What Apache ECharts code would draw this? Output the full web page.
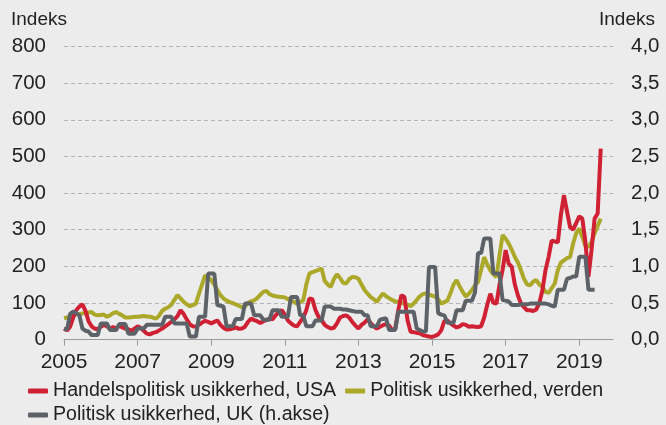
<!DOCTYPE html>
<html>
<head>
<meta charset="utf-8">
<script src="https://cdn.jsdelivr.net/npm/echarts@6/dist/echarts.min.js"></script>
<style>
  html, body { margin: 0; padding: 0; background: #ececec; }
  #chart { width: 666px; height: 425px; }
</style>
</head>
<body>
<div id="chart"></div>
<script>
// Monthly axis: January 2005 to December 2019
const firstYear = 2005;
const lastYear = 2019;
const months = [];
for (let y = firstYear; y <= lastYear; y++) {
  for (let m = 1; m <= 12; m++) {
    months.push(y + '-' + (m < 10 ? '0' + m : m));
  }
}

// Handelspolitisk usikkerhed, USA (venstre akse), Jan 2005 - Aug 2019
const tradeUSA = [
  30, 25, 35, 60, 80, 90, 96, 78, 50, 36, 30, 28,
  35, 40, 36, 30, 34, 30, 38, 33, 30, 28, 24, 30,
  36, 32, 24, 16, 14, 18, 20, 25, 30, 36, 42, 48,
  55, 64, 80, 70, 55, 42, 36, 35, 40, 46, 51, 48,
  44, 48, 52, 40, 32, 27, 28, 30, 33, 29, 30, 35,
  48, 57, 53, 50, 45, 50, 53, 57, 55, 66, 75, 80,
  68, 52, 44, 38, 36, 48, 60, 80, 112, 110, 80, 62,
  53, 40, 34, 30, 32, 44, 60, 64, 66, 60, 48, 38,
  30, 40, 46, 55, 45, 36, 30, 35, 39, 42, 38, 25,
  30, 80, 121, 116, 53, 21, 20, 18, 17, 12, 10, 8,
  7, 10, 14, 25, 50, 52, 44, 38, 33, 36, 42, 40,
  35, 36, 35, 34, 36, 60, 95, 125, 100, 98, 150, 190,
  244, 207, 198, 150, 120, 98, 88, 80, 80, 78, 82, 100,
  135, 190, 225, 270, 268, 265, 340, 394, 350, 307, 300, 318,
  336, 330, 266, 171, 244, 330, 344, 521
];

// Politisk usikkerhed, verden (venstre akse), Jan 2005 - Aug 2019
const policyWorld = [
  58, 60, 62, 66, 69, 70, 71, 72, 74, 75, 68, 66,
  67, 68, 62, 66, 72, 75, 70, 66, 60, 60, 61, 62,
  62, 63, 64, 63, 62, 60, 57, 65, 78, 84, 88, 95,
  108, 121, 112, 103, 96, 91, 94, 98, 125, 150, 175, 170,
  162, 150, 135, 121, 112, 106, 102, 99, 96, 92, 88, 90,
  100, 104, 107, 113, 122, 130, 133, 124, 120, 118, 117, 116,
  115, 110, 107, 102, 98, 102, 107, 150, 180, 184, 187, 190,
  194, 160, 150, 144, 165, 178, 168, 155, 153, 165, 171, 170,
  166, 150, 135, 125, 116, 110, 103, 115, 126, 118, 113, 108,
  104, 103, 100, 98, 95, 91, 98, 108, 118, 124, 126, 122,
  120, 117, 110, 98, 102, 106, 126, 150, 162, 145, 130, 117,
  125, 135, 148, 157, 190, 225, 205, 189, 178, 171, 230, 285,
  275, 262, 245, 225, 210, 189, 165, 150, 148, 158, 162, 150,
  144, 130, 127, 140, 153, 189, 210, 216, 222, 225, 262, 290,
  303, 280, 255, 253, 266, 290, 310, 330
];

// Politisk usikkerhed, UK (højre akse), Jan 2005 - Jun 2019
const policyUK = [
  0.14, 0.14, 0.35, 0.38, 0.36, 0.33, 0.15, 0.12, 0.11, 0.06, 0.06, 0.06,
  0.22, 0.22, 0.22, 0.13, 0.13, 0.13, 0.21, 0.21, 0.21, 0.08, 0.08, 0.08,
  0.15, 0.15, 0.15, 0.20, 0.20, 0.20, 0.20, 0.20, 0.20, 0.31, 0.31, 0.31,
  0.22, 0.22, 0.22, 0.22, 0.22, 0.04, 0.04, 0.04, 0.31, 0.31, 0.31, 0.90,
  0.90, 0.90, 0.47, 0.46, 0.45, 0.18, 0.18, 0.18, 0.28, 0.28, 0.28, 0.49,
  0.49, 0.49, 0.33, 0.33, 0.33, 0.27, 0.27, 0.27, 0.40, 0.40, 0.40, 0.31,
  0.31, 0.31, 0.58, 0.58, 0.58, 0.33, 0.33, 0.18, 0.18, 0.18, 0.26, 0.26,
  0.26, 0.45, 0.45, 0.45, 0.42, 0.42, 0.42, 0.41, 0.41, 0.40, 0.39, 0.38,
  0.38, 0.38, 0.33, 0.33, 0.18, 0.18, 0.18, 0.27, 0.28, 0.29, 0.13, 0.13,
  0.13, 0.38, 0.38, 0.38, 0.38, 0.38, 0.38, 0.15, 0.13, 0.11, 0.11, 0.99,
  0.99, 0.99, 0.36, 0.34, 0.33, 0.23, 0.23, 0.23, 0.40, 0.40, 0.40, 0.53,
  0.53, 0.53, 0.64, 1.18, 1.18, 1.38, 1.38, 1.38, 0.90, 0.90, 0.90, 0.54,
  0.53, 0.52, 0.47, 0.47, 0.47, 0.48, 0.48, 0.48, 0.49, 0.49, 0.49, 0.49,
  0.49, 0.49, 0.48, 0.46, 0.45, 0.68, 0.68, 0.68, 0.83, 0.84, 0.86, 0.86,
  1.13, 1.13, 1.13, 0.68, 0.68, 0.68
];

const seriesNames = [
  'Handelspolitisk usikkerhed, USA',
  'Politisk usikkerhed, verden',
  'Politisk usikkerhed, UK (h.akse)'
];
const colors = ['#cf2034', '#aba82a', '#5d6268'];

const font = 'Liberation Sans, Arial, sans-serif';
const textColor = '#222222';
const everyTwoYears = (idx) => idx % 24 === 0;

// Shared legend look; two rows are laid out as two legend blocks
const legendBase = {
  left: 28,
  padding: 0,
  itemGap: 9,
  itemWidth: 20,
  itemHeight: 5,
  icon: 'roundRect',
  textStyle: { fontSize: 19.6, color: textColor, fontFamily: font, lineHeight: 20 }
};

const chart = echarts.init(document.getElementById('chart'), null, { renderer: 'canvas' });
chart.setOption({
  backgroundColor: '#ececec',
  animation: false,
  color: colors,
  textStyle: { fontFamily: font },
  grid: { left: 64, right: 53, top: 46.5, bottom: 85.5, containLabel: false },
  graphic: [
    { type: 'text', left: 11, top: 10, style: { text: 'Indeks', font: '19px ' + font, fill: textColor } },
    { type: 'text', right: 11, top: 10, style: { text: 'Indeks', font: '19px ' + font, fill: textColor } }
  ],
  legend: [
    Object.assign({}, legendBase, { top: 381, data: [seriesNames[0], seriesNames[1]] }),
    Object.assign({}, legendBase, { top: 405, data: [seriesNames[2]] })
  ],
  xAxis: {
    type: 'category',
    data: months,
    boundaryGap: false,
    axisLine: { lineStyle: { color: '#9a9a9a', width: 1 } },
    axisTick: { interval: everyTwoYears, length: 6, lineStyle: { color: '#9a9a9a' } },
    axisLabel: {
      interval: everyTwoYears,
      formatter: (v) => v.slice(0, 4),
      fontSize: 21,
      color: textColor,
      margin: 12
    },
    splitLine: { show: false }
  },
  yAxis: [
    {
      type: 'value',
      min: 0, max: 800, interval: 100,
      axisLine: { show: false },
      axisTick: { show: false },
      axisLabel: { fontSize: 20.5, color: textColor, margin: 18 },
      splitLine: { lineStyle: { color: '#b4b4b4', type: [4, 3], width: 1 } }
    },
    {
      type: 'value',
      min: 0, max: 4, interval: 0.5,
      axisLine: { show: false },
      axisTick: { show: false },
      axisLabel: {
        fontSize: 20.5, color: textColor, margin: 18,
        formatter: (v) => v.toFixed(1).replace('.', ',')
      },
      splitLine: { show: false }
    }
  ],
  series: [
    {
      name: seriesNames[0], type: 'line', yAxisIndex: 0, data: tradeUSA,
      showSymbol: false, symbol: 'none', lineStyle: { width: 4, color: colors[0] }, z: 3
    },
    {
      name: seriesNames[1], type: 'line', yAxisIndex: 0, data: policyWorld,
      showSymbol: false, symbol: 'none', lineStyle: { width: 4, color: colors[1] }, z: 2
    },
    {
      name: seriesNames[2], type: 'line', yAxisIndex: 1, data: policyUK,
      showSymbol: false, symbol: 'none', lineStyle: { width: 4, color: colors[2] }, z: 4
    }
  ]
});
</script>
</body>
</html>
